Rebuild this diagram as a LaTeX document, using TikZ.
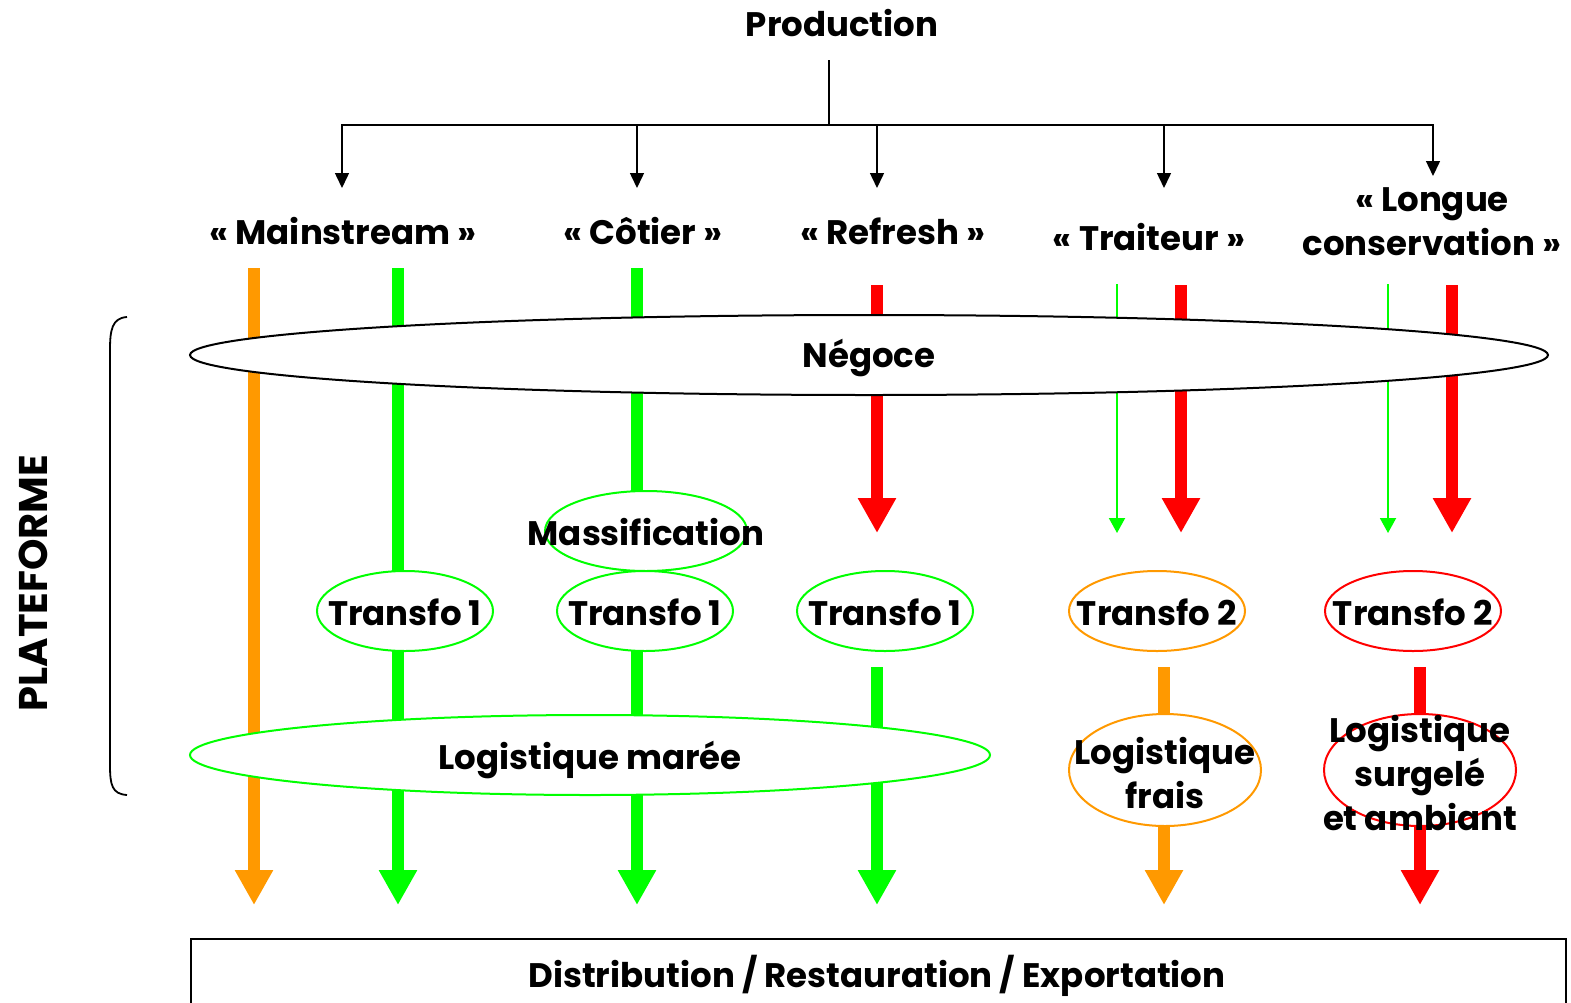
\documentclass[tikz,border=0pt]{standalone}
\usepackage{fontspec}
\setmainfont{Poppins}
\usetikzlibrary{shapes.geometric,arrows.meta}
\definecolor{cor}{HTML}{FF9900}
\definecolor{cgr}{HTML}{00FF00}
\definecolor{crd}{HTML}{FF0000}
\pgfdeclarelayer{bg}
\pgfsetlayers{bg,main}
\begin{document}
\begin{tikzpicture}[x=1pt,y=-1pt,
  txt/.style={font=\fontsize{34}{44}\selectfont\bfseries, inner sep=0pt, align=center, yshift=-3pt},
  ell/.style={draw=#1, line width=2pt, fill=white, ellipse, inner sep=0pt},
  treearrow/.style={line width=1.5pt, -{Triangle[width=14pt,length=15pt]}},
  flow/.style={color=#1, line width=12pt, -{Triangle[width=36pt,length=35pt]}},
  thinflow/.style={color=#1, line width=2pt, -{Triangle[width=16pt,length=15pt]}}]
\useasboundingbox (0,0) rectangle (1571,1002);

% top tree
\node[txt] (prod) at (842,20) {Production};
\coordinate (prodbot) at (829,60);
\coordinate (junc) at (829,125);
\node[txt] (cmain) at (343,228) {« Mainstream »};
\node[txt] (ccot) at (643,228) {« Côtier »};
\node[txt] (cref) at (893,228) {« Refresh »};
\node[txt] (ctrt) at (1149,234) {« Traiteur »};
\node[txt] (clong) at (1432,219) {« Longue\\conservation »};
\coordinate (e1) at (342,188);
\coordinate (e2) at (637,188);
\coordinate (e3) at (877,188);
\coordinate (e4) at (1164,188);
\coordinate (e5) at (1433,176);
\draw[line width=1.5pt] (prodbot) -- (junc);
\foreach \e in {e1,e2,e3,e4,e5} \draw[treearrow] (junc) -| (\e);

% ellipses
\node[ell=black, minimum width=1358pt, minimum height=80pt] (neg) at (869,355) {};
\node[txt] (negt) at (neg) {Négoce};
\node[ell=cgr, minimum width=202pt, minimum height=80pt] (mass) at (646,531) {};
\node[txt] (masst) at (646,529) {Massification};
\node[ell=cgr, minimum width=176pt, minimum height=80pt] (ta) at (405,611) {};
\node[txt] (tat) at (405,609) {Transfo 1};
\node[ell=cgr, minimum width=176pt, minimum height=80pt] (tb) at (645,611) {};
\node[txt] (tbt) at (645,609) {Transfo 1};
\node[ell=cgr, minimum width=176pt, minimum height=80pt] (tc) at (885,611) {};
\node[txt] (tct) at (885,609) {Transfo 1};
\node[ell=cor, minimum width=176pt, minimum height=80pt] (td) at (1157,611) {};
\node[txt] (tdt) at (1157,609) {Transfo 2};
\node[ell=crd, minimum width=176pt, minimum height=80pt] (te) at (1413,611) {};
\node[txt] (tet) at (1413,609) {Transfo 2};
\node[ell=cgr, minimum width=800pt, minimum height=80pt] (logm) at (590,755) {};
\node[txt] (logmt) at (590,757) {Logistique marée};
\node[ell=cor, minimum width=192pt, minimum height=112pt] (logf) at (1165,770) {};
\node[txt] (logft) at (logf) {Logistique\\frais};
\node[ell=crd, minimum width=192pt, minimum height=112pt] (logs) at (1420,770) {};
\node[txt] (logst) at (1420,770) {Logistique\\surgelé\\et ambiant};

% distribution box
\node[draw, line width=2pt, minimum width=1375pt, minimum height=100pt, anchor=north west, inner sep=0pt] (dist) at (190,938) {};
\node[txt] (distt) at (877,973) {Distribution / Restauration / Exportation};

% plateforme
\node[txt, font=\fontsize{40}{44}\selectfont\bfseries, rotate=90, yshift=0pt, xshift=3pt] (plat) at (33,583) {PLATEFORME};
\draw[line width=1.8pt] (127,317) .. controls (112,318) and (110,330) .. (110,350) -- (110,765) .. controls (110,785) and (112,794) .. (127,795);

% flows
\coordinate (o1s) at (254,268); \coordinate (o1e) at (254,905);
\coordinate (g1s) at (398,268); \coordinate (g1e) at (398,905);
\coordinate (g2s) at (637,268); \coordinate (g2e) at (637,905);
\coordinate (r1s) at (877,285); \coordinate (r1e) at (877,533);
\coordinate (g3s) at (877,667); \coordinate (g3e) at (877,905);
\coordinate (h1s) at (1117,284); \coordinate (h1e) at (1117,533);
\coordinate (r2s) at (1181,285); \coordinate (r2e) at (1181,533);
\coordinate (h2s) at (1388,284); \coordinate (h2e) at (1388,533);
\coordinate (r3s) at (1452,285); \coordinate (r3e) at (1452,533);
\coordinate (o2s) at (1164,667); \coordinate (o2e) at (1164,905);
\coordinate (r4s) at (1420,667); \coordinate (r4e) at (1420,905);
\begin{pgfonlayer}{bg}
\draw[flow=cor] (o1s) -- (o1e);
\draw[flow=cgr] (g1s) -- (g1e);
\draw[flow=cgr] (g2s) -- (g2e);
\draw[flow=crd] (r1s) -- (r1e);
\draw[flow=cgr] (g3s) -- (g3e);
\draw[thinflow=cgr] (h1s) -- (h1e);
\draw[flow=crd] (r2s) -- (r2e);
\draw[thinflow=cgr] (h2s) -- (h2e);
\draw[flow=crd] (r3s) -- (r3e);
\draw[flow=cor] (o2s) -- (o2e);
\draw[flow=crd] (r4s) -- (r4e);
\end{pgfonlayer}
\end{tikzpicture}
\end{document}
